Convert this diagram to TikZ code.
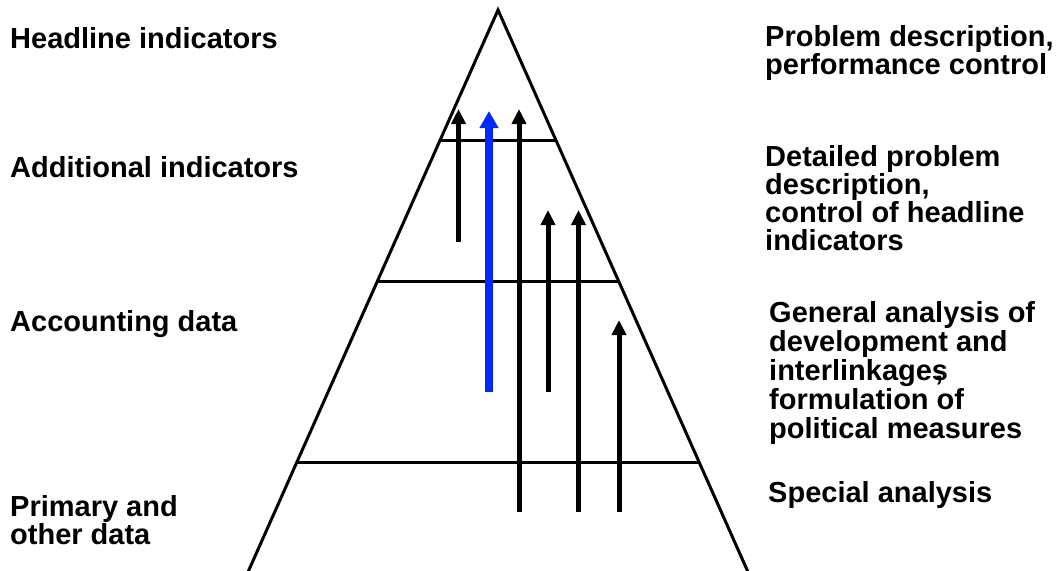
\documentclass[tikz,border=0pt]{standalone}
\usepackage{fontspec}
\setmainfont{Liberation Sans}
\usetikzlibrary{arrows.meta}
\definecolor{arrowblue}{RGB}{0,40,255}
\begin{document}
\begin{tikzpicture}[x=1pt,y=-1pt,
  pyr/.style={line width=3pt,line join=miter},
  level/.style={line width=3pt},
  uparrow/.style={line width=5pt,-{Triangle[length=15pt,width=14pt]}},
  bluearrow/.style={line width=8pt,arrowblue,-{Triangle[length=17pt,width=18pt]}},
  lbl/.style={anchor=base west,inner sep=0pt,font=\bfseries\fontsize{29}{28}\selectfont}
]
\useasboundingbox (0,0) rectangle (1062,570);
% pyramid
\coordinate (apex) at (498,10);
\coordinate (bl) at (248,572);
\coordinate (br) at (748,572);
\draw[pyr] (bl) -- (apex) -- (br);
% level lines
\coordinate (l1a) at (440,140); \coordinate (l1b) at (556,140);
\coordinate (l2a) at (377,281); \coordinate (l2b) at (619,281);
\coordinate (l3a) at (297,462); \coordinate (l3b) at (699,462);
\draw[level] (l1a) -- (l1b);
\draw[level] (l2a) -- (l2b);
\draw[level] (l3a) -- (l3b);
% arrows
\coordinate (a1s) at (458.5,242); \coordinate (a1t) at (458.5,109);
\coordinate (a2s) at (489,392);   \coordinate (a2t) at (489,111);
\coordinate (a3s) at (519,512);   \coordinate (a3t) at (519,109);
\coordinate (a4s) at (548,392);   \coordinate (a4t) at (548,210);
\coordinate (a5s) at (578.5,512); \coordinate (a5t) at (578.5,210);
\coordinate (a6s) at (619,512);   \coordinate (a6t) at (619,320);
\draw[uparrow] (a1s) -- (a1t);
\draw[bluearrow] (a2s) -- (a2t);
\draw[uparrow] (a3s) -- (a3t);
\draw[uparrow] (a4s) -- (a4t);
\draw[uparrow] (a5s) -- (a5t);
\draw[uparrow] (a6s) -- (a6t);
% left labels
\node[lbl] (hl) at (10,48) {Headline indicators};
\node[lbl] (ad) at (10,177) {Additional indicators};
\node[lbl] (ac) at (10,331) {Accounting data};
\node[lbl] (pr) at (10,516) {\parbox[t]{230pt}{\raggedright\fontsize{29}{26}\selectfont Primary and\\other data}};
% right labels
\node[lbl] (r1) at (765,46) {\parbox[t]{297pt}{\raggedright\fontsize{29}{28}\selectfont Problem description,\\performance control}};
\node[lbl] (r2) at (765,166) {\parbox[t]{297pt}{\raggedright\fontsize{29}{28}\selectfont Detailed problem\\description,\\control of headline\\indicators}};
\node[lbl] (r3) at (769,322) {\parbox[t]{293pt}{\raggedright\fontsize{29}{29}\selectfont General analysis of\\development and\\interlinkages\kern-0.45em,\\formulation of\\political measures}};
\node[lbl] (r4) at (768,502) {Special analysis};
\end{tikzpicture}
\end{document}
